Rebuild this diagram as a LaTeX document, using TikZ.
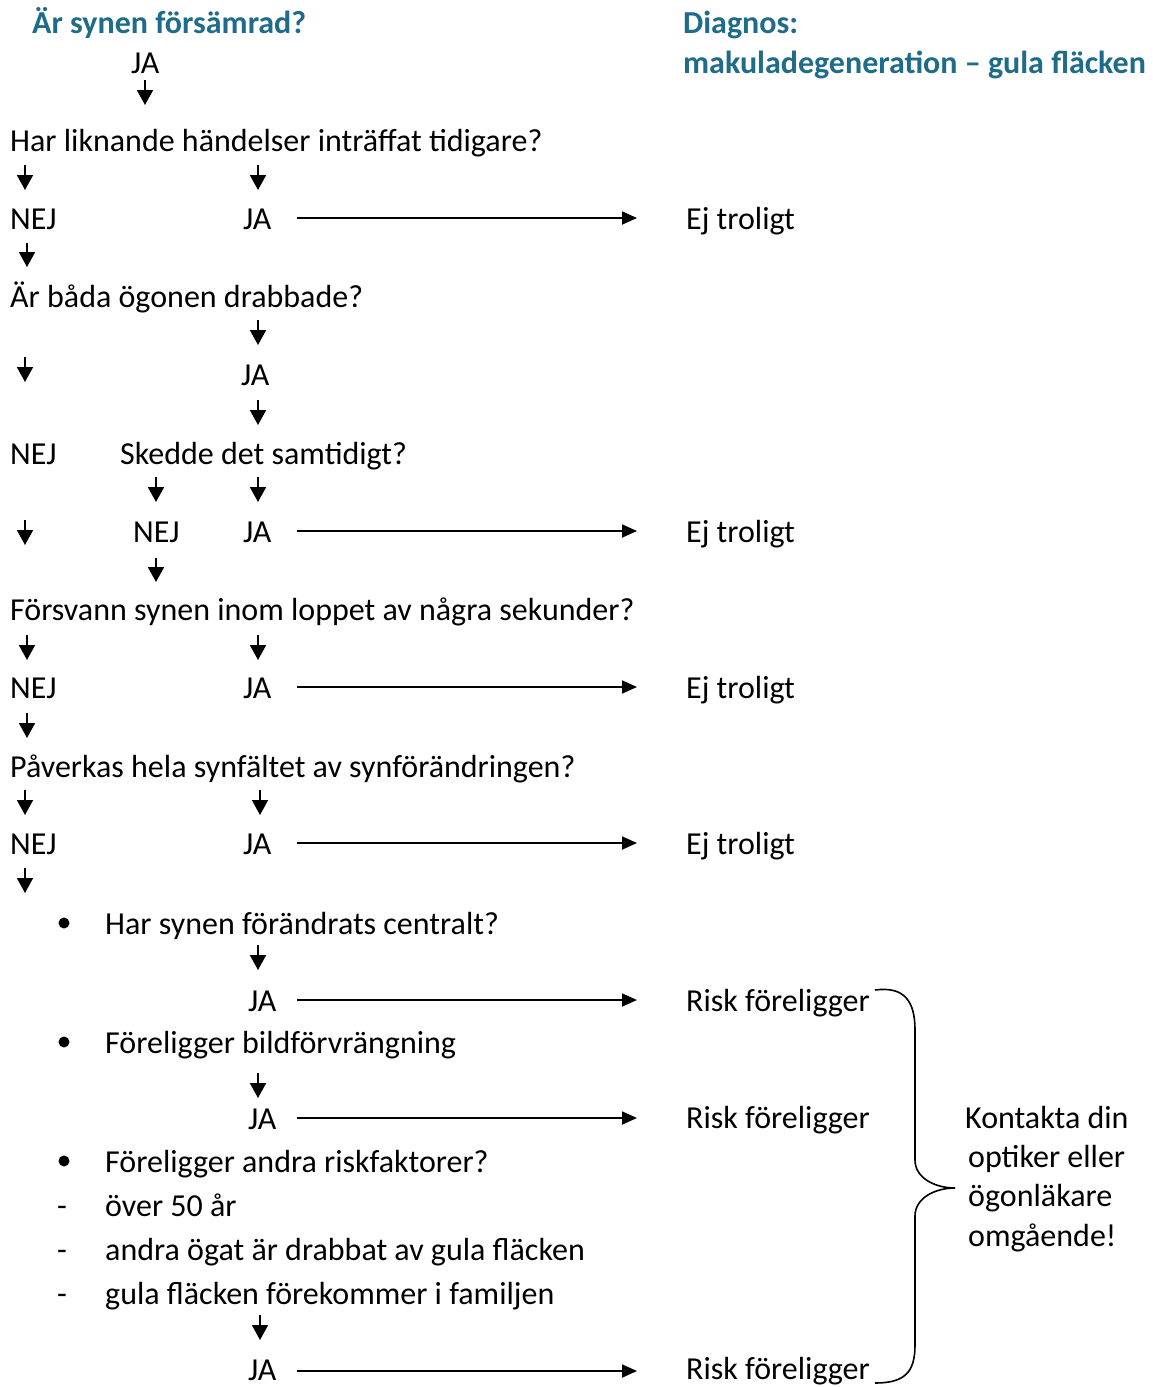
\documentclass[tikz,border=0pt]{standalone}
\usepackage{fontspec}
\setmainfont{Carlito}
\usetikzlibrary{arrows.meta,calc}
\definecolor{titleblue}{RGB}{31,107,138}
\begin{document}
\begin{tikzpicture}[x=1pt,y=-1pt,
  txt/.style={anchor=west,inner sep=0pt,text height=23pt,text depth=0pt,font=\fontsize{32}{39}\selectfont},
  ttl/.style={txt,font=\fontsize{32}{39}\selectfont\bfseries,text=titleblue},
  varr/.style={line width=1.8pt,-{Triangle[length=15pt,width=16pt]}},
  harr/.style={line width=1.8pt,-{Triangle[length=15pt,width=13pt]}},
  brace/.style={line width=1.6pt}]
\useasboundingbox (0,0) rectangle (1153,1387);
% titles
\node[ttl] (q0) at (32,22) {Är synen försämrad?};
\node[ttl] (d1) at (683,22) {Diagnos:};
\node[ttl] (d2) at (683,62) {makuladegeneration – gula fläcken};
\node[txt] (ja0) at (131,62) {JA};
\draw[varr] (145,80) -- (145,105);
% Q1
\node[txt] (q1) at (10,140) {Har liknande händelser inträffat tidigare?};
\draw[varr] (25,165) -- (25,190);
\draw[varr] (258,165) -- (258,190);
\node[txt] (nej1) at (10,218) {NEJ};
\node[txt] (ja1) at (243,218) {JA};
\node[txt] (e1) at (686,218) {Ej troligt};
\coordinate (s) at (297,0);
\coordinate (t) at (637,0);
\draw[harr] (ja1.west -| s) -- (ja1.west -| t);
\draw[varr] (27,243) -- (27,267);
% Q2
\node[txt] (q2) at (10,296) {Är båda ögonen drabbade?};
\draw[varr] (258,320) -- (258,345);
\draw[varr] (25,357) -- (25,382);
\node[txt] (ja2) at (241,374) {JA};
\draw[varr] (258,400) -- (258,425);
\node[txt] (nej2) at (10,453) {NEJ};
\node[txt] (q3) at (120,453) {Skedde det samtidigt?};
\draw[varr] (156,477) -- (156,502);
\draw[varr] (258,477) -- (258,502);
\draw[varr] (25,520) -- (25,545);
\node[txt] (nej3) at (133,531) {NEJ};
\node[txt] (ja3) at (243,531) {JA};
\node[txt] (e3) at (686,531) {Ej troligt};
\draw[harr] (ja3.west -| s) -- (ja3.west -| t);
\draw[varr] (156,558) -- (156,582);
% Q4
\node[txt] (q4) at (10,609) {Försvann synen inom loppet av några sekunder?};
\draw[varr] (27,635) -- (27,660);
\draw[varr] (258,635) -- (258,660);
\node[txt] (nej4) at (10,687) {NEJ};
\node[txt] (ja4) at (243,687) {JA};
\node[txt] (e4) at (686,687) {Ej troligt};
\draw[harr] (ja4.west -| s) -- (ja4.west -| t);
\draw[varr] (27,713) -- (27,738);
% Q5
\node[txt] (q5) at (10,766) {Påverkas hela synfältet av synförändringen?};
\draw[varr] (25,790) -- (25,815);
\draw[varr] (260,790) -- (260,815);
\node[txt] (nej5) at (10,843) {NEJ};
\node[txt] (ja5) at (243,843) {JA};
\node[txt] (e5) at (686,843) {Ej troligt};
\draw[harr] (ja5.west -| s) -- (ja5.west -| t);
\draw[varr] (25,868) -- (25,893);
% bullets
\fill (64,923) circle (5.5);
\node[txt] (b1) at (105,923) {Har synen förändrats centralt?};
\draw[varr] (258,945) -- (258,970);
\node[txt] (ja6) at (248,1000) {JA};
\node[txt] (r1) at (686,1000) {Risk föreligger};
\draw[harr] (ja6.west -| s) -- (ja6.west -| t);
\fill (64,1042) circle (5.5);
\node[txt] (b2) at (105,1042) {Föreligger bildförvrängning};
\draw[varr] (258,1073) -- (258,1098);
\node[txt] (ja7) at (248,1118) {JA};
\node[txt] (r2) at (686,1117) {Risk föreligger};
\draw[harr] (ja7.west -| s) -- (ja7.west -| t);
\fill (64,1161) circle (5.5);
\node[txt] (b3) at (105,1161) {Föreligger andra riskfaktorer?};
\node[txt] (m1) at (57,1205) {-};
\node[txt] (l1) at (105,1205) {över 50 år};
\node[txt] (m2) at (57,1249) {-};
\node[txt] (l2) at (105,1249) {andra ögat är drabbat av gula fläcken};
\node[txt] (m3) at (57,1293) {-};
\node[txt] (l3) at (105,1293) {gula fläcken förekommer i familjen};
\draw[varr] (260,1315) -- (260,1340);
\node[txt] (ja8) at (248,1369) {JA};
\node[txt] (r3) at (686,1368) {Risk föreligger};
\draw[harr] ($(ja8.west -| s)+(0,2)$) -- ($(ja8.west -| t)+(0,2)$);
% brace
\draw[brace] (875,990) .. controls (905,986) and (915,1002) .. (915,1030)
  -- (915,1160) .. controls (915,1178) and (935,1188) .. (955,1188)
  .. controls (935,1188) and (915,1198) .. (915,1216)
  -- (915,1345) .. controls (915,1372) and (905,1383) .. (875,1383);
\node[txt] (k1) at (965,1117) {Kontakta din};
\node[txt] (k2) at (968,1156) {optiker eller};
\node[txt] (k3) at (968,1195) {ögonläkare};
\node[txt] (k4) at (968,1235) {omgående!};
\end{tikzpicture}
\end{document}
